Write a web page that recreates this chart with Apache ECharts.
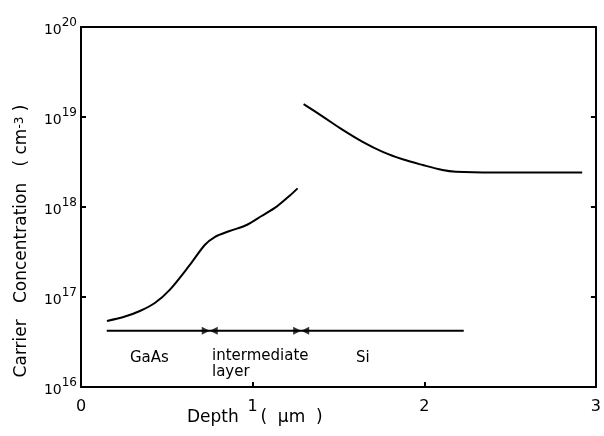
<!DOCTYPE html>
<html>
<head>
<meta charset="utf-8">
<script src="https://cdn.jsdelivr.net/npm/echarts@6/dist/echarts.min.js"></script>
<style>
  html, body { margin: 0; padding: 0; background: #fff; }
  #main { width: 604px; height: 436px; }
</style>
</head>
<body>
<div id="main"></div>
<script>
// GaAs + intermediate layer profile
var lowerDepth = [0.151, 0.256, 0.343, 0.43, 0.517, 0.634, 0.721, 0.779, 0.866, 0.965, 1.052, 1.14, 1.215, 1.262];
var lowerConc = [5.41e16, 6.07e16, 6.99e16, 8.58e16, 1.2e17, 2.27e17, 3.78e17, 4.64e17, 5.41e17, 6.31e17, 7.94e17, 1.01e18, 1.33e18, 1.61e18];
// Si profile
var upperDepth = [1.297, 1.409, 1.525, 1.641, 1.758, 1.874, 1.99, 2.106, 2.184, 2.4, 2.92];
var upperConc = [1.39e19, 1.01e19, 7.2e18, 5.3e18, 4.1e18, 3.39e18, 2.93e18, 2.58e18, 2.47e18, 2.42e18, 2.42e18];
// layer bar and boundaries
var layerLine = [0.15, 2.23];
var layerLevel = 4.23e16;
var boundaries = [0.75, 1.283];
var xTicks = [0, 1, 2, 3];

var font = 'DejaVu Sans';

function pairs(xs, ys) {
    return xs.map(function (x, i) { return [x, ys[i]]; });
}

var myChart = echarts.init(document.getElementById('main'));

var option = {
    animation: false,
    grid: { left: 81, top: 27, right: 7, bottom: 49 },
    xAxis: [
        {
            type: 'value',
            min: xTicks[0],
            max: xTicks[xTicks.length - 1],
            interval: 1,
            axisLine: { lineStyle: { color: '#000', width: 2 } },
            axisTick: { inside: true, length: 5, lineStyle: { color: '#000', width: 2 } },
            axisLabel: { color: '#000', fontSize: 16, fontFamily: font, margin: 12 },
            splitLine: { show: false }
        },
        {
            type: 'value',
            position: 'top',
            min: 0,
            max: 3,
            axisLine: { onZero: false, lineStyle: { color: '#000', width: 2 } },
            axisTick: { show: false },
            axisLabel: { show: false },
            splitLine: { show: false }
        }
    ],
    yAxis: [
        {
            type: 'log',
            logBase: 10,
            min: 1e16,
            max: 1e20,
            axisLine: { onZero: false, lineStyle: { color: '#000', width: 2 } },
            axisTick: { inside: true, length: 5, lineStyle: { color: '#000', width: 2 } },
            splitLine: { show: false },
            axisLabel: {
                margin: 4,
                formatter: function (v) {
                    var e = Math.round(Math.log10(v));
                    return '{b|10}{s|' + e + '}';
                },
                rich: {
                    b: { fontSize: 14, fontFamily: font, color: '#000', padding: [6, 0, 0, 0] },
                    s: { fontSize: 12, fontFamily: font, color: '#000', verticalAlign: 'top' }
                }
            }
        },
        {
            type: 'log',
            logBase: 10,
            min: 1e16,
            max: 1e20,
            position: 'right',
            axisLine: { onZero: false, lineStyle: { color: '#000', width: 2 } },
            axisTick: { inside: true, length: 5, lineStyle: { color: '#000', width: 2 } },
            axisLabel: { show: false },
            splitLine: { show: false }
        }
    ],
    graphic: [
        {
            type: 'text', x: 22, y: 241, rotation: Math.PI / 2,
            style: {
                text: '{t|Carrier   Concentration   ( cm}{s|-3}{t| )}',
                align: 'center', verticalAlign: 'middle',
                rich: {
                    t: { fontSize: 17, fontFamily: font, fill: '#000' },
                    s: { fontSize: 12, fontFamily: font, fill: '#000', verticalAlign: 'top' }
                }
            }
        },
        { type: 'text', x: 187, y: 409, style: { text: 'Depth    (  μm  )', fontSize: 17, fontFamily: font, fill: '#000' } },
        { type: 'text', x: 130, y: 351, style: { text: 'GaAs', fontSize: 15, fontFamily: font, fill: '#000' } },
        { type: 'text', x: 212, y: 348, style: { text: 'intermediate\nlayer', fontSize: 15, lineHeight: 16, fontFamily: font, fill: '#000' } },
        { type: 'text', x: 356, y: 351, style: { text: 'Si', fontSize: 15, fontFamily: font, fill: '#000' } }
    ],
    series: [
        {
            type: 'line',
            data: pairs(lowerDepth, lowerConc),
            smooth: 0.3,
            showSymbol: false,
            lineStyle: { color: '#000', width: 2 }
        },
        {
            type: 'line',
            data: pairs(upperDepth, upperConc),
            smooth: 0.35,
            showSymbol: false,
            lineStyle: { color: '#000', width: 2 }
        },
        {
            type: 'line',
            data: pairs(layerLine, [layerLevel, layerLevel]),
            showSymbol: false,
            lineStyle: { color: '#000', width: 2 }
        },
        {
            type: 'scatter',
            data: boundaries.map(function (b) { return [b, layerLevel]; }),
            symbol: 'triangle',
            symbolSize: [8, 8],
            symbolRotate: -90,
            symbolOffset: [-4, 0],
            itemStyle: { color: '#000' }
        },
        {
            type: 'scatter',
            data: boundaries.map(function (b) { return [b, layerLevel]; }),
            symbol: 'triangle',
            symbolSize: [8, 8],
            symbolRotate: 90,
            symbolOffset: [4, 0],
            itemStyle: { color: '#000' }
        }
    ]
};

myChart.setOption(option);
window.addEventListener('resize', function () { myChart.resize(); });
</script>
</body>
</html>
